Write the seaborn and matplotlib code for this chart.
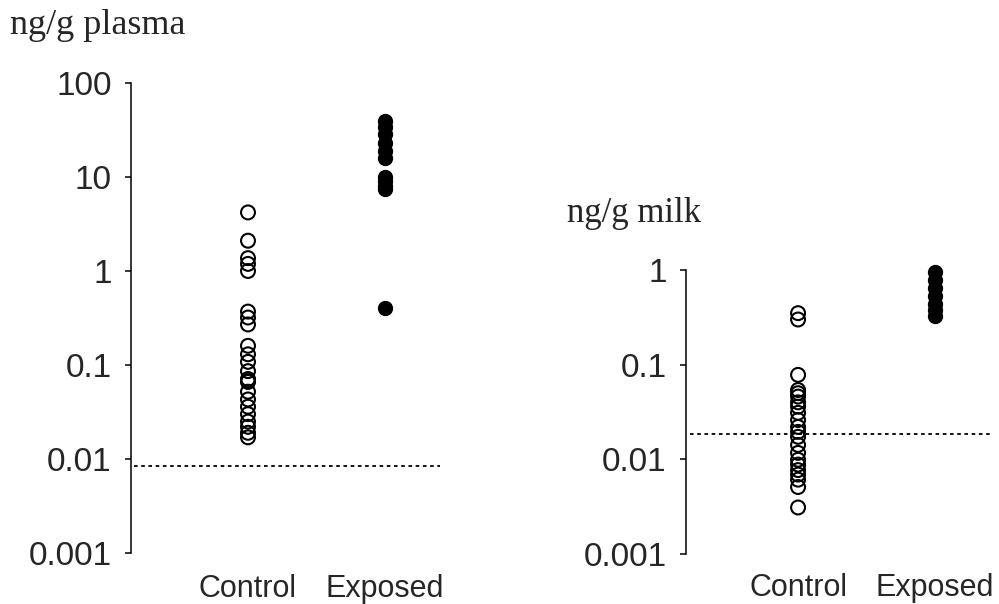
import matplotlib
matplotlib.use("Agg")
import matplotlib.pyplot as plt
import seaborn as sns
import pandas as pd
from matplotlib.ticker import FixedLocator, NullLocator

sns.set_style("white")
plt.rcParams["font.family"] = ["Liberation Sans", "DejaVu Sans"]

groups = ["Control", "Exposed"]

# Plasma (ng/g)
plasma_control = [4.2, 2.1, 1.37, 1.19, 1.0, 0.37, 0.32, 0.27, 0.16, 0.13, 0.108,
                  0.086, 0.071, 0.068, 0.066, 0.052, 0.043, 0.036, 0.030, 0.025,
                  0.022, 0.019, 0.017]
plasma_exposed = [39, 34, 29, 23, 19, 16, 10, 9, 8, 7.5, 0.4]
plasma_lod = 0.0085
plasma_ticks = [0.001, 0.01, 0.1, 1, 10, 100]
plasma_ticklabels = ["0.001", "0.01", "0.1", "1", "10", "100"]

# Milk (ng/g)
milk_control = [0.35, 0.30, 0.078, 0.054, 0.050, 0.046, 0.040, 0.036, 0.031, 0.026,
                0.022, 0.0195, 0.0173, 0.0142, 0.0117, 0.0099, 0.0088, 0.0077,
                0.0069, 0.0061, 0.0051, 0.0031]
milk_exposed = [0.95, 0.78, 0.64, 0.53, 0.44, 0.38, 0.33]
milk_lod = 0.0185
milk_ticks = [0.001, 0.01, 0.1, 1]
milk_ticklabels = ["0.001", "0.01", "0.1", "1"]

fig = plt.figure(figsize=(9.99, 6.04), dpi=100)

W, H = 999.0, 604.0
def axes_px(left, top, right, bottom):
    return fig.add_axes([left / W, 1 - bottom / H, (right - left) / W, (bottom - top) / H])

ax1 = axes_px(131, 83, 445, 553)
ax2 = axes_px(686, 270, 993, 554)


def tidy(ax, start):
    for coll in list(ax.collections[start:]):
        if len(coll.get_offsets()) == 0:
            coll.remove()
        else:
            coll.set_clip_on(False)


def panel(ax, control, exposed, lod, ticks, ticklabels, ylim, xlim, lod_x, xpad):
    dc = pd.DataFrame({"group": "Control", "value": control})
    de = pd.DataFrame({"group": "Exposed", "value": exposed})
    ax.set_yscale("log")
    n0 = len(ax.collections)
    sns.stripplot(data=dc, x="group", y="value", order=groups, jitter=False,
                  ax=ax, size=10, marker="o", color="black", linewidth=1.5,
                  edgecolor="black")
    tidy(ax, n0)
    for coll in ax.collections[n0:]:
        coll.set_facecolor("none")
        coll.set_edgecolor("black")
        coll.set_linewidth(1.5)
    n1 = len(ax.collections)
    sns.stripplot(data=de, x="group", y="value", order=groups, jitter=False,
                  ax=ax, size=10, marker="o", color="black", linewidth=1.0,
                  edgecolor="black")
    tidy(ax, n1)
    ax.hlines(lod, lod_x[0], lod_x[1], colors="black", linestyles=(0, (2, 2)),
              linewidth=1.3)
    ax.set_ylim(*ylim)
    ax.set_xlim(*xlim)
    ax.yaxis.set_major_locator(FixedLocator(ticks))
    ax.yaxis.set_minor_locator(NullLocator())
    ax.set_yticklabels(ticklabels, fontsize=24)
    ax.set_xticks([0, 1])
    ax.set_xticklabels(groups, fontsize=22)
    ax.tick_params(axis="x", length=0, pad=xpad)
    ax.tick_params(axis="y", length=4, width=1.1, pad=10, color="black",
                   direction="out", left=True)
    for s in ["top", "right", "bottom"]:
        ax.spines[s].set_visible(False)
    ax.spines["left"].set_linewidth(1.1)
    ax.spines["left"].set_color("black")
    ax.set_xlabel("")
    ax.set_ylabel("")
    ax.patch.set_alpha(0)


panel(ax1, plasma_control, plasma_exposed, plasma_lod, plasma_ticks, plasma_ticklabels,
      (0.001, 100), (-0.854, 1.438), (-0.83, 1.40), 15)
panel(ax2, milk_control, milk_exposed, milk_lod, milk_ticks, milk_ticklabels,
      (0.001, 1), (-0.818, 1.423), (-0.79, 1.42), 14)

fig.text(10 / W, 1 - 34 / H, "ng/g plasma", family=["Liberation Serif", "DejaVu Serif"],
         fontsize=26, va="baseline", ha="left")
fig.text(567 / W, 1 - 222 / H, "ng/g milk", family=["Liberation Serif", "DejaVu Serif"],
         fontsize=25, va="baseline", ha="left")

fig.savefig("out.png", dpi=100)
